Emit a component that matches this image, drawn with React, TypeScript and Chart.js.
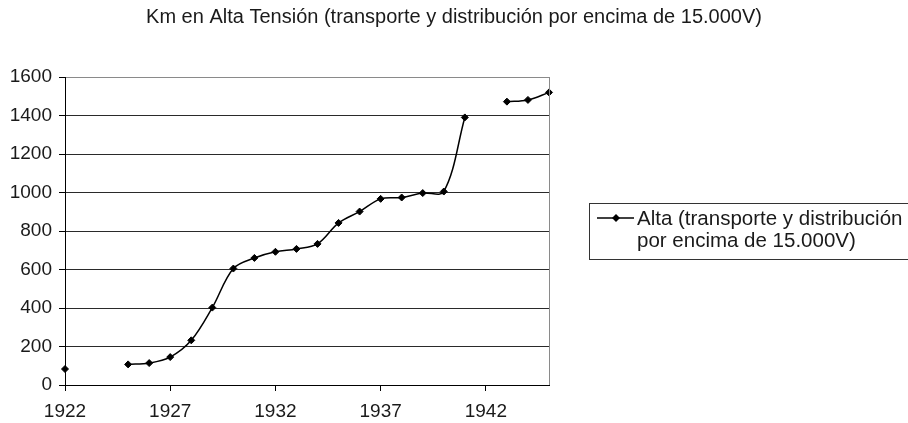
import React, { useEffect, useRef } from 'react';
import { Chart, registerables } from 'chart.js';

Chart.register(...registerables);

const titleText = 'Km en Alta Tensión (transporte y distribución por encima de 15.000V)';
const seriesName = ['Alta (transporte y distribución', 'por encima de 15.000V)'];

const years = [
  '1922', '1923', '1924', '1925', '1926', '1927', '1928', '1929', '1930', '1931', '1932', '1933',
  '1934', '1935', '1936', '1937', '1938', '1939', '1940', '1941', '1942', '1943', '1944', '1945',
];

const kmAlta: (number | null)[] = [
  83, null, null, 107, 114, 145, 232, 402, 605, 660, 692, 707,
  733, 842, 901, 967, 974, 997, 1005, 1390, null, 1472, 1481, 1520,
];

const yMin = 0;
const yMax = 1600;
const yStep = 200;
const xLabelEvery = 5;

const FONT = '"Liberation Sans", Arial, Helvetica, sans-serif';

const decorPlugin = {
  id: 'decor',
  afterDraw(chart: any) {
    const { ctx, chartArea } = chart;
    ctx.save();
    // right border of plot area
    ctx.strokeStyle = '#8a8a8a';
    ctx.lineWidth = 1;
    ctx.beginPath();
    ctx.moveTo(Math.round(chartArea.right) + 0.5, chartArea.top);
    ctx.lineTo(Math.round(chartArea.right) + 0.5, chartArea.bottom);
    ctx.stroke();

    // title centred over the full width
    ctx.fillStyle = '#1a1a1a';
    ctx.font = `20px ${FONT}`;
    ctx.textAlign = 'center';
    ctx.textBaseline = 'middle';
    ctx.fillText(titleText, chart.width / 2, 17);

    // legend box
    const bx = 589.5, by = 203.5, bw = 330, bh = 56;
    ctx.strokeStyle = '#333';
    ctx.lineWidth = 1;
    ctx.strokeRect(bx, by, bw, bh);
    const ly = 218;
    ctx.strokeStyle = '#000';
    ctx.lineWidth = 1.5;
    ctx.beginPath();
    ctx.moveTo(597, ly);
    ctx.lineTo(634, ly);
    ctx.stroke();
    ctx.fillStyle = '#000';
    ctx.beginPath();
    ctx.moveTo(612, ly);
    ctx.lineTo(616, ly - 4);
    ctx.lineTo(620, ly);
    ctx.lineTo(616, ly + 4);
    ctx.closePath();
    ctx.fill();
    ctx.fillStyle = '#1a1a1a';
    ctx.font = `20.5px ${FONT}`;
    ctx.textAlign = 'left';
    ctx.textBaseline = 'alphabetic';
    ctx.fillText(seriesName[0], 637, 225);
    ctx.fillText(seriesName[1], 637, 247);
    ctx.restore();
  },
};

export default function App() {
  const ref = useRef<HTMLCanvasElement | null>(null);

  useEffect(() => {
    document.body.style.margin = '0';
    const canvas = ref.current;
    if (!canvas) return;
    const chart = new Chart(canvas, {
      type: 'line',
      data: {
        labels: years,
        datasets: [
          {
            label: seriesName.join(' '),
            data: kmAlta,
            borderColor: '#000',
            backgroundColor: '#000',
            borderWidth: 1.5,
            tension: 0.35,
            spanGaps: false,
            pointStyle: 'rectRot',
            pointRadius: 3.5,
            pointBorderWidth: 1,
            pointBackgroundColor: '#000',
            pointBorderColor: '#000',
            fill: false,
          },
        ],
      },
      options: {
        responsive: false,
        animation: false,
        layout: { padding: { top: 77, right: 359, left: 0, bottom: 0 } },
        plugins: {
          legend: { display: false },
          title: { display: false },
          tooltip: { enabled: false },
        },
        scales: {
          x: {
            type: 'category',
            offset: false,
            afterFit(scale: any) {
              scale.height = 38;
            },
            grid: {
              drawOnChartArea: false,
              drawTicks: true,
              tickLength: 6,
              tickColor: (c: any) => (c.index % xLabelEvery === 0 ? '#000' : 'rgba(0,0,0,0)'),
            },
            border: { display: true, color: '#000', width: 1 },
            ticks: {
              autoSkip: false,
              maxRotation: 0,
              minRotation: 0,
              padding: 9,
              color: '#1a1a1a',
              font: { family: FONT, size: 19 },
              callback: (_v: any, i: number) => (i % xLabelEvery === 0 ? years[i] : ''),
            },
          },
          y: {
            min: yMin,
            max: yMax,
            afterFit(scale: any) {
              scale.width = 65;
            },
            grid: {
              color: (c: any) => (c.tick && c.tick.value === yMax ? '#8a8a8a' : '#2a2a2a'),
              lineWidth: 1,
              tickLength: 6,
              tickColor: '#000',
            },
            border: { display: true, color: '#000', width: 1 },
            ticks: {
              stepSize: yStep,
              padding: 7,
              color: '#1a1a1a',
              font: { family: FONT, size: 19 },
              callback: (v: any) => String(v),
            },
          },
        },
      },
      plugins: [decorPlugin],
    });
    return () => chart.destroy();
  }, []);

  return (
    <div style={{ width: 908, height: 423, background: '#fff' }}>
      <canvas ref={ref} width={908} height={423} />
    </div>
  );
}
